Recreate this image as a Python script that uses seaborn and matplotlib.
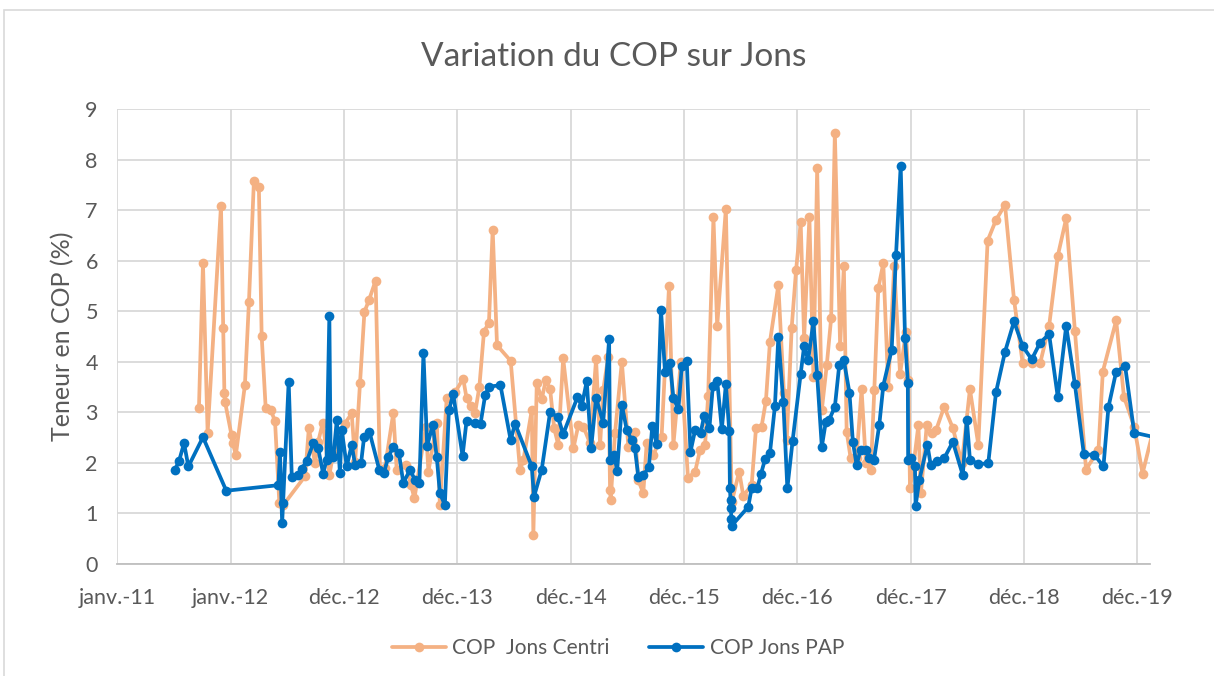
import pandas as pd
import matplotlib
matplotlib.use('Agg')
import matplotlib.pyplot as plt
import seaborn as sns
from matplotlib.patches import Rectangle

# Days elapsed since 1 Jan 2011 for every sample, and the COP content (%)
centri_days = [
    263, 276, 291, 334, 341, 345, 347, 368, 372, 382,
    411, 424, 440, 456, 465, 478, 494, 508, 522, 535,
    605, 617, 637, 647, 662, 683, 696, 733, 755, 766,
    782, 796, 811, 832, 846, 862, 889, 900, 930, 946,
    957, 994, 1002, 1029, 1039, 1061, 1088, 1114, 1125, 1138,
    1152, 1166, 1181, 1197, 1209, 1223, 1267, 1297, 1308, 1335,
    1340, 1351, 1367, 1380, 1394, 1407, 1420, 1436, 1469, 1485,
    1501, 1522, 1542, 1555, 1565, 1581, 1587, 1589, 1603, 1625,
    1646, 1667, 1678, 1694, 1705, 1726, 1753, 1777, 1791, 1815,
    1838, 1861, 1877, 1893, 1903, 1920, 1932, 1960, 1979, 2003,
    2016, 2043, 2057, 2075, 2089, 2102, 2129, 2147, 2156, 2172,
    2186, 2201, 2212, 2229, 2242, 2254, 2269, 2285, 2299, 2311,
    2328, 2340, 2349, 2362, 2381, 2397, 2411, 2427, 2438, 2451,
    2467, 2483, 2502, 2521, 2540, 2548, 2553, 2564, 2580, 2588,
    2607, 2623, 2637, 2663, 2691, 2720, 2746, 2773, 2803, 2830,
    2859, 2888, 2916, 2945, 2972, 3001, 3029, 3056, 3084, 3120,
    3160, 3174, 3217, 3242, 3275, 3302, 3358,
]
centri_values = [
    3.08, 5.95, 2.60, 7.09, 4.68, 3.38, 3.21, 2.55, 2.39, 2.16,
    3.54, 5.18, 7.58, 7.47, 4.52, 3.08, 3.05, 2.83, 1.20, 1.17,
    1.74, 2.69, 1.99, 2.42, 2.80, 1.76, 2.20, 2.78, 2.98, 2.02,
    3.59, 4.99, 5.23, 5.61, 1.86, 1.90, 2.99, 1.86, 1.96, 1.56,
    1.30, 2.72, 1.83, 2.80, 1.17, 3.28, 3.40, 3.67, 3.28, 3.13,
    2.98, 3.50, 4.60, 4.78, 6.62, 4.33, 4.02, 1.86, 2.06, 3.05,
    0.57, 3.58, 3.26, 3.64, 3.46, 2.69, 2.36, 4.07, 2.29, 2.75,
    2.72, 2.40, 4.05, 2.36, 3.44, 4.10, 1.46, 1.27, 2.59, 4.00,
    2.32, 2.62, 1.66, 1.40, 2.39, 2.16, 2.51, 5.51, 2.36, 4.00,
    1.70, 1.83, 2.26, 2.36, 3.33, 6.86, 4.71, 7.03, 1.23, 1.83,
    1.35, 1.56, 2.69, 2.72, 3.23, 4.40, 5.52, 3.38, 2.45, 4.68,
    5.81, 6.76, 4.47, 6.86, 3.70, 7.83, 3.05, 3.94, 4.86, 8.54,
    4.31, 5.90, 2.62, 2.09, 2.10, 3.46, 1.99, 1.86, 3.44, 5.46,
    5.95, 3.51, 5.89, 3.76, 4.60, 3.64, 1.50, 1.93, 2.75, 1.40,
    2.75, 2.59, 2.65, 3.11, 2.69, 2.00, 3.46, 2.36, 6.40, 6.81,
    7.11, 5.23, 3.97, 3.97, 3.97, 4.71, 6.10, 6.84, 4.62, 1.87,
    2.26, 3.81, 4.82, 3.31, 2.72, 1.79, 3.19,
]

pap_days = [
    186, 199, 215, 229, 276, 351, 519, 524, 531, 534,
    552, 562, 583, 594, 610, 631, 647, 663, 674, 683,
    687, 696, 707, 717, 723, 739, 755, 766, 785, 795,
    812, 844, 859, 873, 889, 907, 921, 943, 959, 973,
    986, 998, 1016, 1029, 1039, 1055, 1068, 1082, 1112, 1125,
    1152, 1170, 1185, 1198, 1234, 1267, 1281, 1335, 1342, 1367,
    1394, 1420, 1436, 1482, 1496, 1512, 1526, 1542, 1565, 1584,
    1587, 1600, 1610, 1625, 1641, 1657, 1667, 1678, 1694, 1712,
    1723, 1737, 1751, 1764, 1780, 1791, 1807, 1818, 1834, 1846,
    1861, 1879, 1890, 1907, 1918, 1932, 1947, 1960, 1971, 1973,
    1975, 1976, 1978, 1979, 2032, 2043, 2061, 2073, 2086, 2102,
    2118, 2129, 2145, 2158, 2175, 2201, 2212, 2225, 2242, 2254,
    2269, 2282, 2293, 2311, 2325, 2340, 2358, 2369, 2381, 2394,
    2410, 2422, 2437, 2454, 2467, 2494, 2508, 2523, 2537, 2546,
    2547, 2555, 2569, 2571, 2583, 2609, 2620, 2639, 2663, 2691,
    2723, 2736, 2746, 2773, 2805, 2830, 2859, 2888, 2916, 2945,
    2972, 3001, 3029, 3056, 3084, 3113, 3147, 3176, 3192, 3217,
    3246, 3275, 3391,
]
pap_values = [
    1.87, 2.04, 2.39, 1.93, 2.51, 1.45, 1.56, 2.22, 0.81, 1.21,
    3.61, 1.73, 1.76, 1.89, 2.03, 2.39, 2.29, 1.79, 2.06, 4.91,
    2.19, 2.12, 2.85, 1.80, 2.65, 1.93, 2.36, 1.96, 1.99, 2.52,
    2.62, 1.86, 1.81, 2.12, 2.32, 2.20, 1.61, 1.86, 1.66, 1.60,
    4.17, 2.34, 2.75, 2.11, 1.40, 1.17, 3.05, 3.36, 2.14, 2.84,
    2.80, 2.78, 3.35, 3.51, 3.54, 2.45, 2.78, 1.93, 1.33, 1.87,
    3.01, 2.90, 2.57, 3.30, 3.13, 3.62, 2.29, 3.28, 2.80, 4.45,
    2.06, 2.16, 1.85, 3.15, 2.65, 2.45, 2.29, 1.73, 1.76, 1.91,
    2.73, 2.38, 5.03, 3.81, 3.97, 3.29, 3.06, 3.91, 4.02, 2.22,
    2.65, 2.60, 2.93, 2.69, 3.52, 3.63, 2.67, 3.56, 2.63, 1.51,
    1.27, 1.10, 0.90, 0.76, 1.13, 1.50, 1.50, 1.78, 2.07, 2.20,
    3.13, 4.49, 3.21, 1.50, 2.44, 3.77, 4.31, 4.04, 4.80, 3.74,
    2.32, 2.82, 2.86, 3.11, 3.93, 4.03, 3.39, 2.42, 1.96, 2.26,
    2.26, 2.09, 2.06, 2.75, 3.53, 4.24, 6.12, 7.88, 4.47, 3.59,
    2.06, 2.09, 1.94, 1.15, 1.66, 2.36, 1.95, 2.03, 2.09, 2.42,
    1.76, 2.86, 2.06, 1.98, 1.99, 3.40, 4.20, 4.80, 4.31, 4.05,
    4.38, 4.55, 3.30, 4.71, 3.56, 2.17, 2.16, 1.93, 3.10, 3.81,
    3.91, 2.60, 2.44,
]

series_names = ['COP  Jons Centri', 'COP Jons PAP']
series_colors = ['#F4B183', '#0070C0']

tick_labels = ['janv.-11', 'janv.-12', 'déc.-12', 'déc.-13', 'déc.-14',
               'déc.-15', 'déc.-16', 'déc.-17', 'déc.-18', 'déc.-19']

start = pd.Timestamp('2011-01-01')

df = pd.concat([
    pd.DataFrame({'date': start + pd.to_timedelta(centri_days, unit='D'),
                  'cop': centri_values, 'serie': series_names[0]}),
    pd.DataFrame({'date': start + pd.to_timedelta(pap_days, unit='D'),
                  'cop': pap_values, 'serie': series_names[1]}),
], ignore_index=True)

sns.set_theme(style='white')
plt.rcParams['font.family'] = ['Lato', 'DejaVu Sans']
text_color = '#595959'

fig = plt.figure(figsize=(12.14, 6.76), dpi=100)
ax = fig.add_axes([0.0966, 0.1657, 0.8507, 0.6726])

sns.lineplot(
    data=df, x='date', y='cop', hue='serie', hue_order=series_names,
    palette=dict(zip(series_names, series_colors)),
    marker='o', markersize=7, markeredgewidth=0, linewidth=2.7,
    estimator=None, sort=False, ax=ax
)

# axis limits and ticks (Excel date axis, 365-day major unit)
ax.set_xlim(start, start + pd.Timedelta(days=3326))
ax.set_ylim(0, 9)
ax.set_xticks([start + pd.Timedelta(days=365 * i) for i in range(len(tick_labels))])
ax.set_xticklabels(tick_labels)
ax.set_yticks(range(0, 10))

ax.grid(True, color='#D9D9D9', linewidth=1.3)
ax.set_axisbelow(True)
for side in ['left', 'top', 'right']:
    ax.spines[side].set_visible(False)
ax.spines['bottom'].set_color('#BFBFBF')
ax.spines['bottom'].set_linewidth(1.3)
ax.tick_params(axis='both', length=0, labelsize=15.5, labelcolor=text_color)
ax.tick_params(axis='x', pad=17)
ax.tick_params(axis='y', pad=14)

ax.set_xlabel('')
ax.set_ylabel('Teneur en COP (%)', fontsize=18, color=text_color, va='center')
ax.yaxis.set_label_coords(-0.0525, 0.5)

fig.text(0.5054, 0.915, 'Variation du COP sur Jons', ha='center', va='center',
         fontsize=24, color=text_color)

handles, labels = ax.get_legend_handles_labels()
ax.get_legend().remove()
fig.legend(handles, labels, loc='center', bbox_to_anchor=(0.509, 0.0414),
           ncol=2, frameon=False, fontsize=15, handlelength=2.6,
           handletextpad=0.3, columnspacing=1.9, labelcolor=text_color)

# chart area border
fig.patches.append(Rectangle((4 / 1214, -0.05), 1.1, 1.05 - 10 / 676,
                             transform=fig.transFigure, fill=False,
                             edgecolor='#D9D9D9', linewidth=1.2))

plt.savefig('out.png', dpi=100)
plt.close()
